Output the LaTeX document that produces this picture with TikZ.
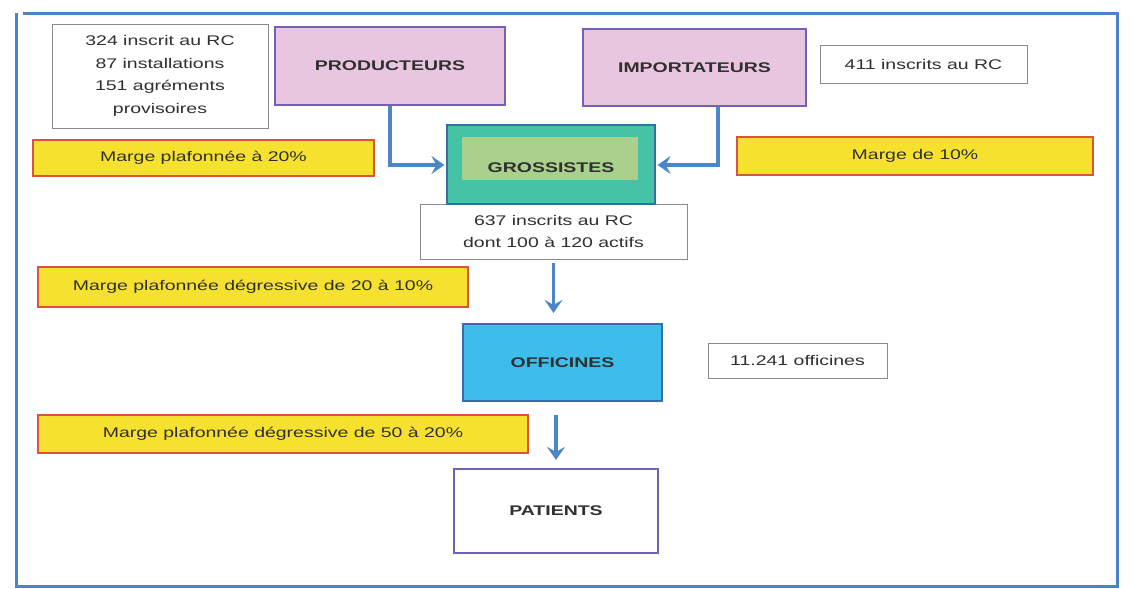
\documentclass[tikz,border=0pt]{standalone}
\usepackage{fontspec}
\setmainfont{Liberation Sans}[FakeStretch=1.39]
\usetikzlibrary{arrows.meta}
\definecolor{frameblue}{HTML}{4A84C6}
\definecolor{arrowblue}{HTML}{4A86C8}
\definecolor{txt}{HTML}{303030}
\definecolor{pinkfill}{HTML}{E8C6E0}
\definecolor{purpleedge}{HTML}{7560B4}
\definecolor{tealfill}{HTML}{45C3A6}
\definecolor{tealedge}{HTML}{3A6C9E}
\definecolor{greenin}{HTML}{A9D08C}
\definecolor{cyanfill}{HTML}{3DBDEC}
\definecolor{cyanedge}{HTML}{3A6CAA}
\definecolor{yellowfill}{HTML}{F6E22E}
\definecolor{rededge}{HTML}{D8553C}
\definecolor{grayedge}{HTML}{8A8A8A}
\tikzset{
  box/.style={draw, inner sep=0pt, align=center, text=txt,
    font=\fontsize{14}{22.5}\selectfont},
  infobox/.style={box, draw=grayedge, line width=1pt, fill=white},
  actor/.style={box, fill=pinkfill, draw=purpleedge, line width=2.2pt, font=\fontsize{14}{17}\selectfont\bfseries},
  margin/.style={box, fill=yellowfill, draw=rededge, line width=2pt},
  flow/.style={draw=arrowblue, line width=3.5pt,
    -{Stealth[length=13pt,width=18pt,inset=5pt]}},
}
\begin{document}
\begin{tikzpicture}[x=1pt,y=-1pt]
\useasboundingbox (0,0) rectangle (1138,589);
\fill[white] (0,0) rectangle (1138,589);

% outer frame
\draw[frameblue, line width=3pt] (23,13) -- (1117,13) -- (1117,586) -- (16,586) -- (16,13);

% counts
\node[infobox, minimum width=216pt, minimum height=104pt] (info1) at (160,76)
  {324 inscrit au RC\\87 installations\\151 agréments\\provisoires};
\node[infobox, minimum width=207pt, minimum height=38pt] (info2) at (923.5,64) {411 inscrits au RC};
\node[infobox, minimum width=267pt, minimum height=55pt] (info3) at (553.5,231.5)
  {637 inscrits au RC\\dont 100 à 120 actifs};
\node[infobox, minimum width=179pt, minimum height=35pt] (info4) at (797.5,360.5) {11.241 officines};

% suppliers
\node[actor, minimum width=230pt, minimum height=78pt] (prod) at (390,66) {PRODUCTEURS};
\node[actor, minimum width=223pt, minimum height=77pt] (imp) at (694.5,67.5) {IMPORTATEURS};

% wholesalers
\node[box, fill=tealfill, draw=tealedge, line width=2.2pt, minimum width=208pt, minimum height=79pt] (gros) at (551,164.5) {};
\node[inner sep=0pt, fill=greenin, minimum width=176pt, minimum height=43pt] (grosin) at (550,158.5) {};
\node[text=txt, font=\fontsize{14}{17}\selectfont\bfseries, inner sep=0pt] (groslabel) at (551,168) {GROSSISTES};

% pharmacies and patients
\node[box, fill=cyanfill, draw=cyanedge, line width=2.2pt, minimum width=199pt, minimum height=77pt,
  font=\fontsize{14}{17}\selectfont\bfseries] (off) at (562.5,362.5) {OFFICINES};
\node[box, fill=white, draw=purpleedge, line width=2.2pt, minimum width=204pt, minimum height=84pt,
  font=\fontsize{14}{17}\selectfont\bfseries] (pat) at (556,511) {PATIENTS};

% margins
\node[margin, minimum width=341pt, minimum height=36pt] (m1) at (203.5,158) {Marge plafonnée à 20\%};
\node[margin, minimum width=356pt, minimum height=38pt] (m2) at (915,156) {Marge de 10\%};
\node[margin, minimum width=430pt, minimum height=40pt] (m3) at (253,287) {Marge plafonnée dégressive de 20 à 10\%};
\node[margin, minimum width=490pt, minimum height=38pt] (m4) at (283,434) {Marge plafonnée dégressive de 50 à 20\%};

% flows
\coordinate (impx) at (718,0);
\coordinate (arrowrow) at (0,165);
\draw[flow, shorten >=1.5pt] (prod.south) -- (prod.south |- arrowrow) -- (gros.west |- arrowrow);
\draw[flow, shorten >=1.5pt] (imp.south -| impx) -- (impx |- arrowrow) -- (gros.east |- arrowrow);
\draw[flow, shorten <=3pt, shorten >=10pt] (info3.south) -- (info3.south |- off.north);
\draw[flow, shorten <=13pt, shorten >=8pt] (off.south -| pat.north) -- (pat.north);
\end{tikzpicture}
\end{document}
